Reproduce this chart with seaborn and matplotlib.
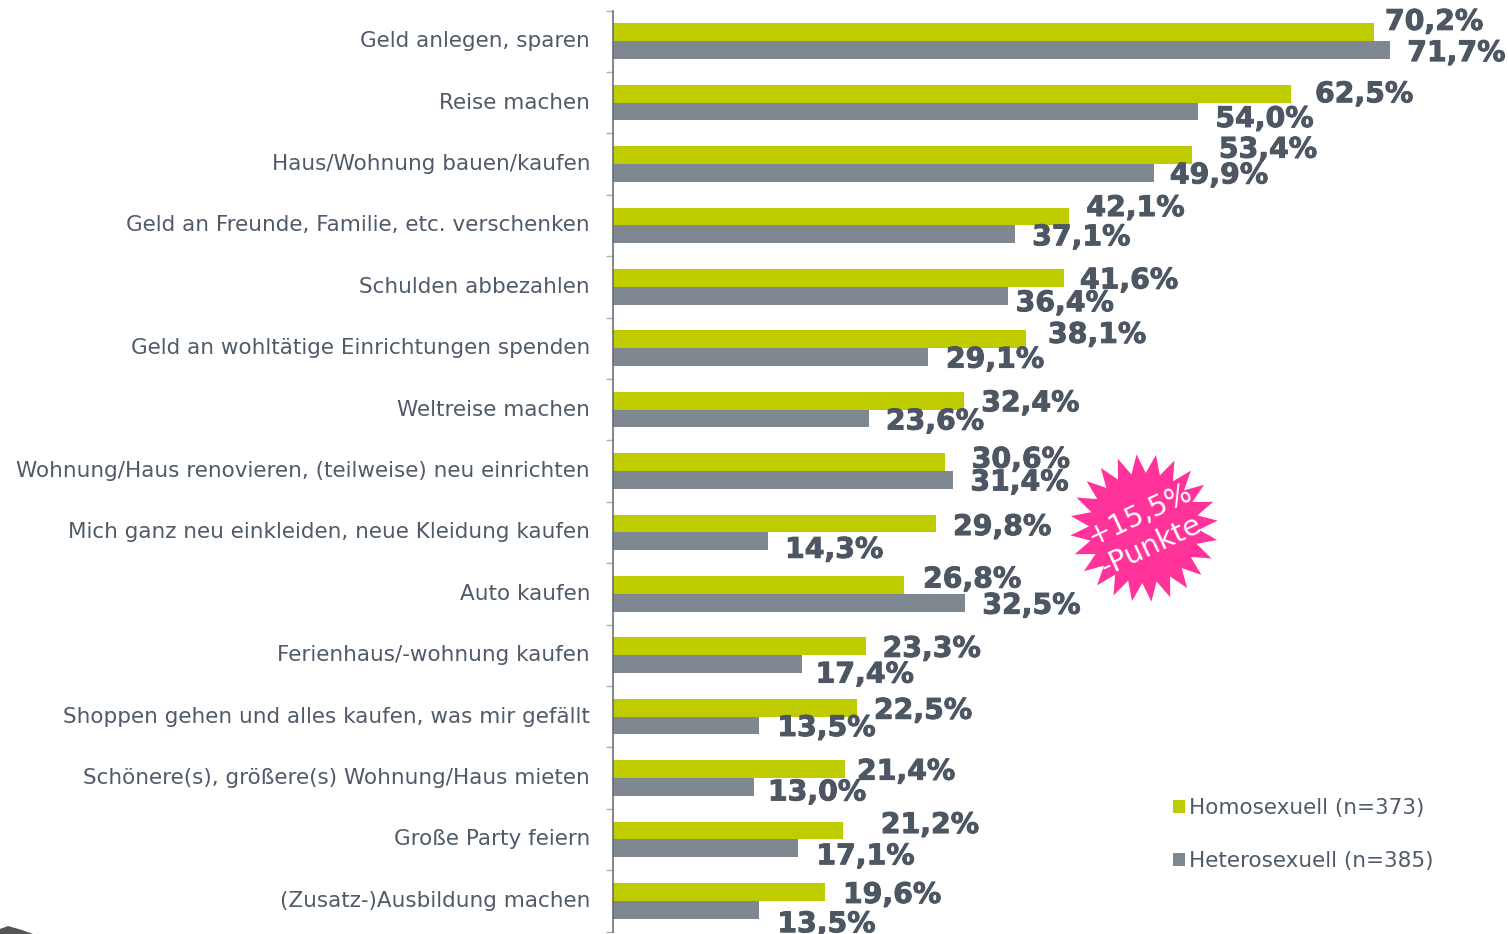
import numpy as np
import pandas as pd
import matplotlib
matplotlib.use("Agg")
import matplotlib.pyplot as plt
import matplotlib.patheffects as pe
from matplotlib.patches import Polygon
from matplotlib.ticker import FixedLocator
from matplotlib.transforms import ScaledTranslation
import seaborn as sns

categories = ["Geld anlegen, sparen", "Reise machen", "Haus/Wohnung bauen/kaufen",
              "Geld an Freunde, Familie, etc. verschenken", "Schulden abbezahlen",
              "Geld an wohltätige Einrichtungen spenden", "Weltreise machen",
              "Wohnung/Haus renovieren, (teilweise) neu einrichten",
              "Mich ganz neu einkleiden, neue Kleidung kaufen", "Auto kaufen",
              "Ferienhaus/-wohnung kaufen", "Shoppen gehen und alles kaufen, was mir gefällt",
              "Schönere(s), größere(s) Wohnung/Haus mieten", "Große Party feiern",
              "(Zusatz-)Ausbildung machen"]
homo = [70.2, 62.5, 53.4, 42.1, 41.6, 38.1, 32.4, 30.6, 29.8, 26.8, 23.3, 22.5, 21.4, 21.2, 19.6]
hetero = [71.7, 54.0, 49.9, 37.1, 36.4, 29.1, 23.6, 31.4, 14.3, 32.5, 17.4, 13.5, 13.0, 17.1, 13.5]
series_names = ["Homosexuell (n=373)", "Heterosexuell (n=385)"]

# label nudges in pixels, the original labels sit a bit all over the place
homo_dx = [11, 24.5, 27, 17, 16, 22, 17, 27, 17, 19.5, 17, 17, 12, 38, 17.5]
homo_dy = [-12, -1, -7, -10, 1, -6, 1, -4, 2, -7, 1, 1.5, 1, -7, 1.5]
hetero_dx = [17, 17, 16, 17, 8, 17.5, 17, 17, 17, 17, 14, 18, 14, 18, 18]
hetero_dy = [1.5, 6, 1, 1.5, 6, 1, 1.5, 1, 7, 1.5, 9, 1, 4, 6.5, 13]

GREEN = "#BFCD00"
GREY = "#7F8790"
TEXT = "#4F5B68"
W, H = 1508, 934

df = pd.DataFrame({
    "Kategorie": categories * 2,
    "Wert": homo + hetero,
    "Gruppe": [series_names[0]] * len(homo) + [series_names[1]] * len(hetero),
})

sns.set_theme(style="white")
plt.rcParams["font.family"] = ["DejaVu Sans"]

fig = plt.figure(figsize=(W / 100, H / 100), dpi=100)
ax = fig.add_axes([613 / W, 1 - 931.5 / H, (W - 613) / W, 921 / H])

sns.barplot(data=df, y="Kategorie", x="Wert", hue="Gruppe", order=categories,
            hue_order=series_names, palette=[GREEN, GREY], width=0.578, gap=0,
            saturation=1, dodge=True, linewidth=0, ax=ax)

ax.set_xlim(0, (W - 613) / 10.84)
ax.set_ylim(14.5, -0.5)
ax.set_xlabel("")
ax.set_ylabel("")
ax.xaxis.set_visible(False)
for side in ["top", "right", "bottom"]:
    ax.spines[side].set_visible(False)
ax.spines["left"].set_color("#5C6670")
ax.spines["left"].set_linewidth(1.1)

ax.tick_params(axis="y", which="major", length=0, pad=16.5, labelsize=15.5, labelcolor=TEXT)
ax.yaxis.set_minor_locator(FixedLocator(np.arange(-0.5, 15, 1)))
ax.tick_params(axis="y", which="minor", length=5, width=1, color="#A9B0B6", left=True)
# tick labels sit 2 px higher in the original
for lab in ax.get_yticklabels():
    lab.set_transform(lab.get_transform() + ScaledTranslation(0, 2 / 100, fig.dpi_scale_trans))

for bars, dxs, dys in zip(ax.containers, [homo_dx, hetero_dx], [homo_dy, hetero_dy]):
    for bar, dx, dy in zip(bars, dxs, dys):
        val = bar.get_width()
        ax.annotate(f"{val:.1f}%".replace(".", ","),
                    xy=(val, bar.get_y() + bar.get_height() / 2),
                    xytext=(dx * 0.72, -(dy + 1.5) * 0.72), textcoords="offset points",
                    ha="left", va="center", fontsize=20.4, fontweight="bold",
                    color="#4C5763", annotation_clip=False, zorder=5,
                    path_effects=[pe.withStroke(linewidth=0.7, foreground="#4C5763")])

handles, labels = ax.get_legend_handles_labels()
ax.legend(handles, labels, loc="upper left", bbox_to_anchor=(1173 / W, 1 - 798 / H),
          bbox_transform=fig.transFigure, frameon=False, fontsize=15.5, labelcolor=TEXT,
          handlelength=0.56, handleheight=0.56, handletextpad=0.2, labelspacing=1.53,
          borderpad=0, borderaxespad=0)


def px(x, y):
    return (x / W, 1 - y / H)


# pink burst
n_spikes = 24
angles = np.linspace(0, 2 * np.pi, n_spikes * 2, endpoint=False) - 0.1
radii = np.where(np.arange(n_spikes * 2) % 2 == 0, 74, 55)
burst = [px(1144 + r * np.cos(a), 528 + r * np.sin(a)) for r, a in zip(radii, angles)]
fig.add_artist(Polygon(burst, closed=True, transform=fig.transFigure, facecolor="#FF3399",
                       edgecolor="none", zorder=6))
fig.text(*px(1140, 514), "+15,5%", color="white", fontsize=20, rotation=25, rotation_mode="anchor",
         ha="center", va="center", zorder=7)
fig.text(*px(1151, 546), "-Punkte", color="white", fontsize=20.5, rotation=25, rotation_mode="anchor",
         ha="center", va="center", zorder=7)

# scrap of a picture in the lower left corner
scrap = [px(0, 934), px(0, 929), px(8, 926), px(22, 930), px(33, 934)]
fig.add_artist(Polygon(scrap, closed=True, transform=fig.transFigure, facecolor="#555555",
                       edgecolor="none"))

fig.savefig("out.png", dpi=100)
